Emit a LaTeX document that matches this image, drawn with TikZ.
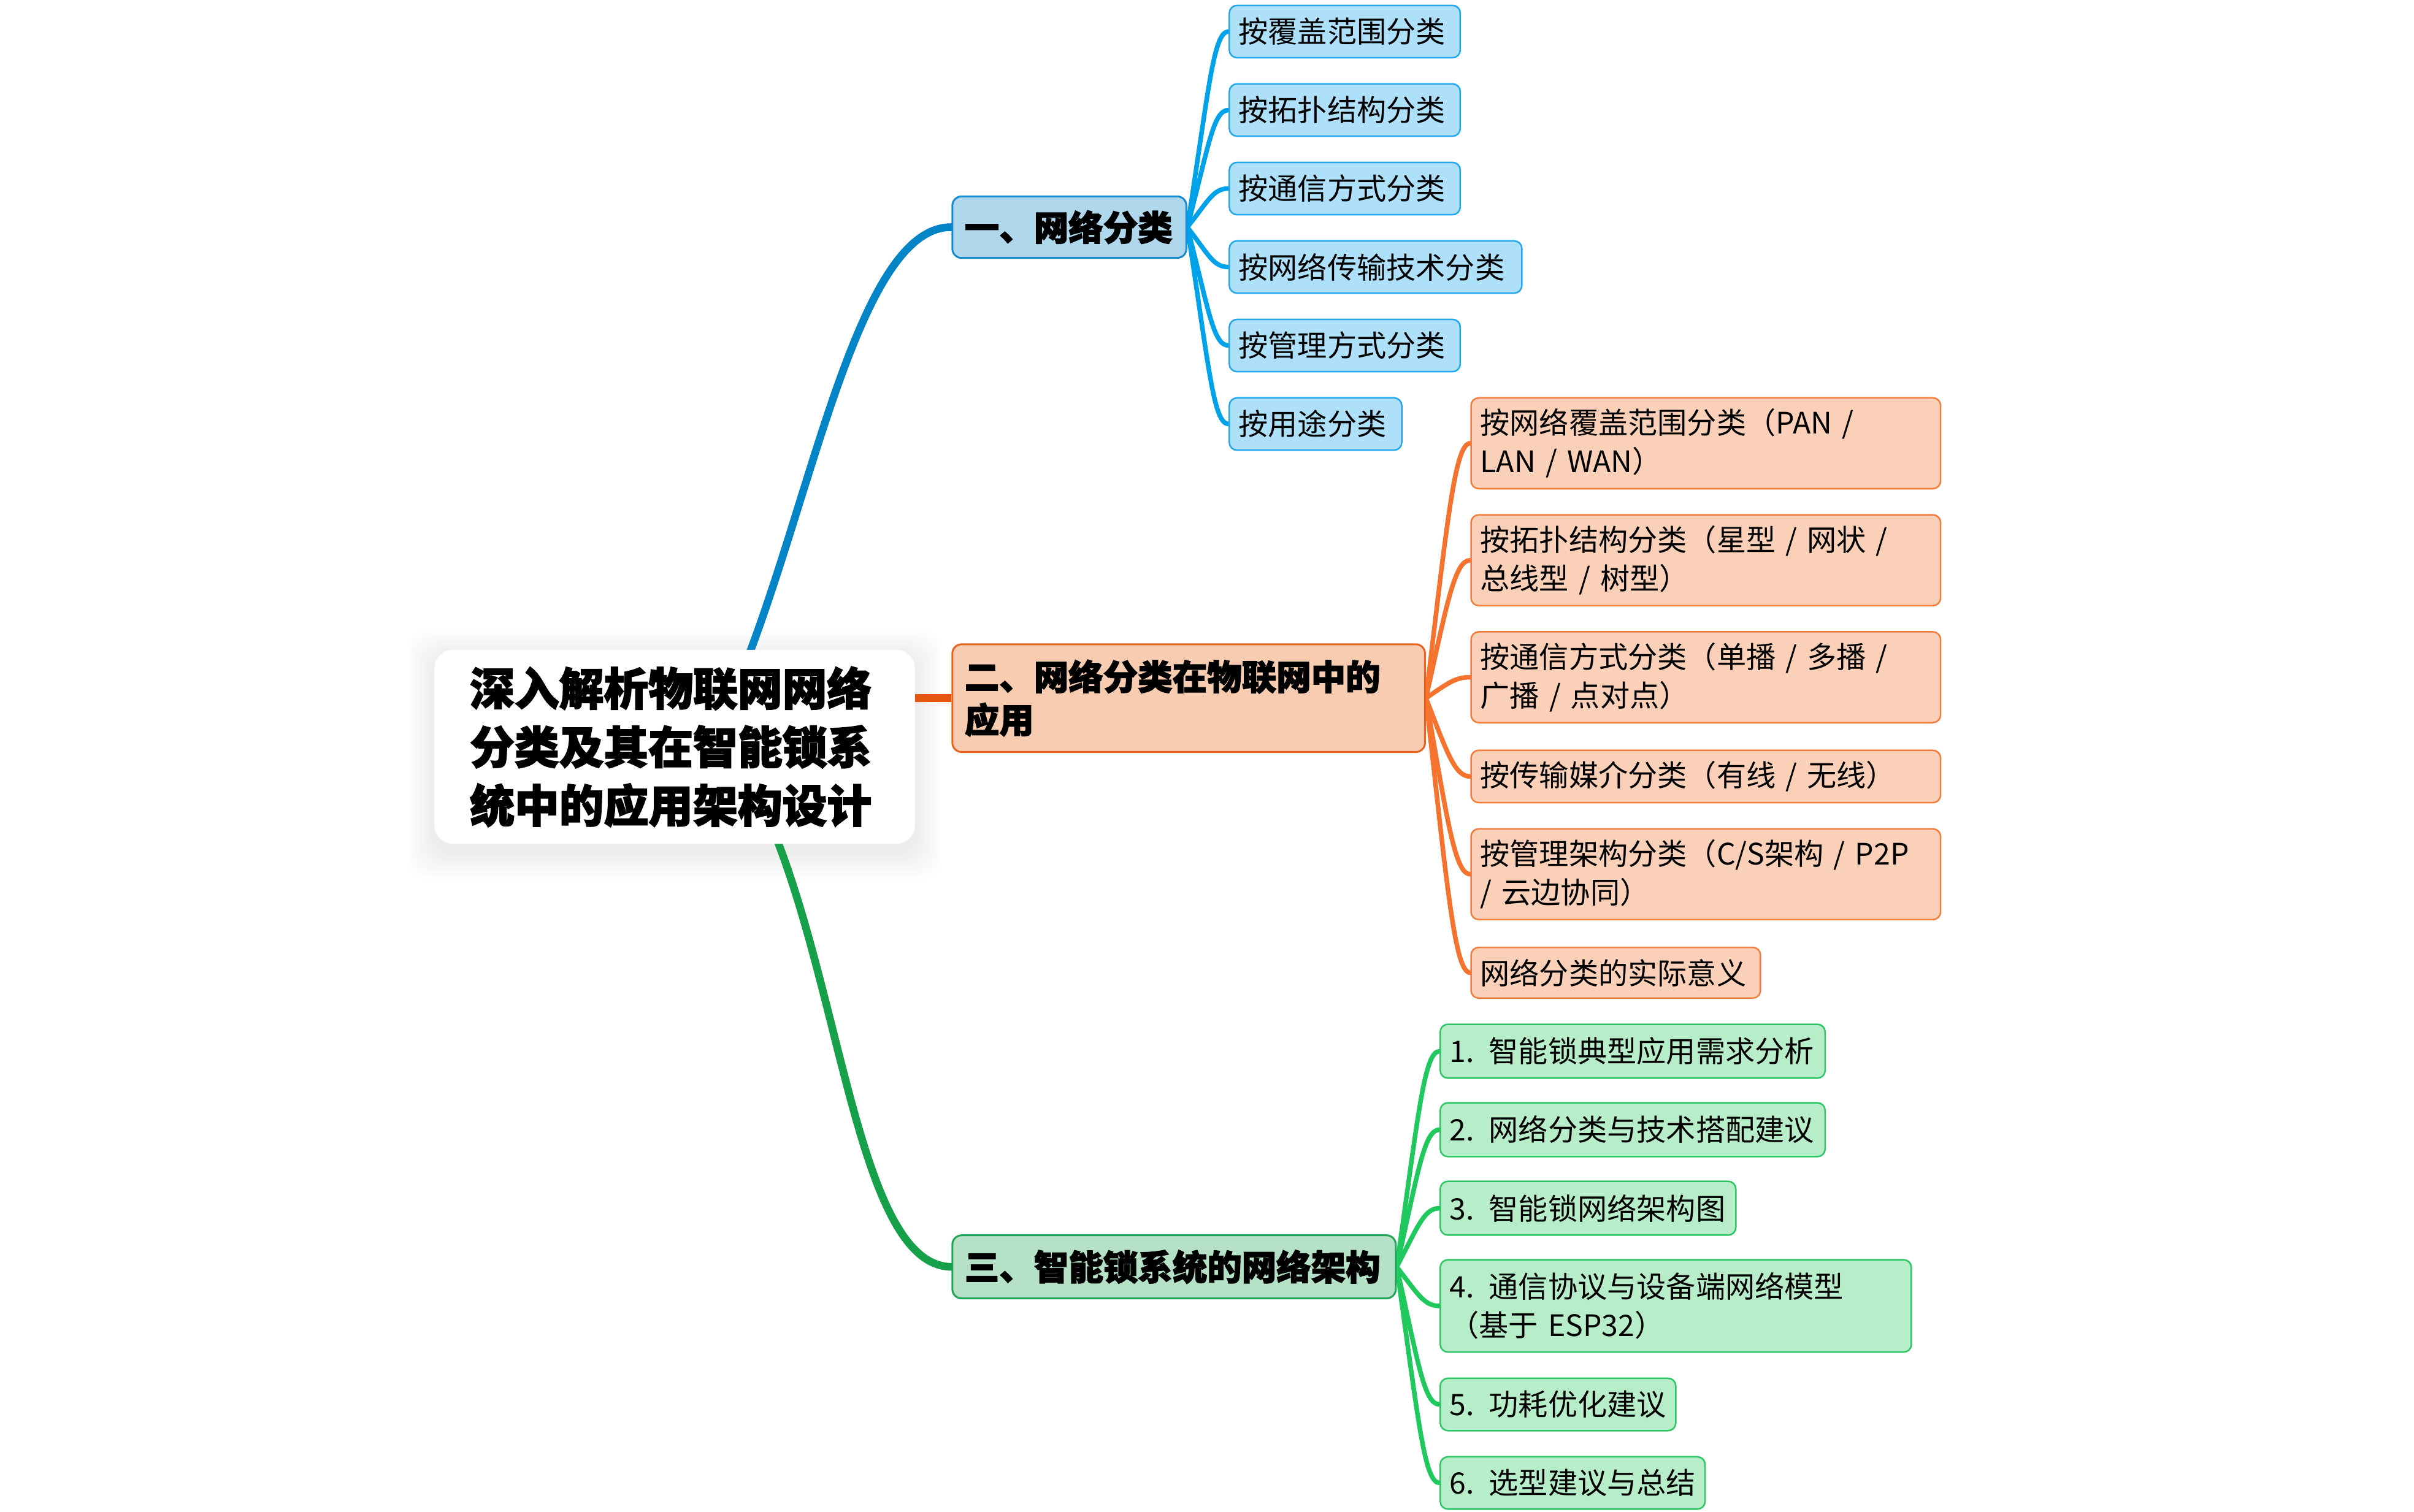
\documentclass[tikz,border=0pt]{standalone}
\usepackage{fontspec}
\setmainfont{Noto Sans CJK SC}[WordSpace=0.75]
\newfontfamily\heavyfont{Noto Sans CJK SC}[BoldFeatures={FakeBold=2.5}]
\usetikzlibrary{calc}
\pgfdeclarelayer{shadow}
\pgfdeclarelayer{bg}
\pgfsetlayers{shadow,bg,main}

\definecolor{mblue}{RGB}{2,132,199}
\definecolor{cblue}{RGB}{0,163,234}
\definecolor{b1fill}{RGB}{176,216,236}
\definecolor{b1draw}{RGB}{26,138,206}
\definecolor{cbfill}{RGB}{174,225,249}
\definecolor{cbdraw}{RGB}{34,168,238}
\definecolor{morange}{RGB}{228,86,14}
\definecolor{corange}{RGB}{245,115,47}
\definecolor{b2fill}{RGB}{248,204,176}
\definecolor{b2draw}{RGB}{232,100,30}
\definecolor{cofill}{RGB}{250,208,184}
\definecolor{codraw}{RGB}{244,124,60}
\definecolor{mgreen}{RGB}{23,160,74}
\definecolor{cgreen}{RGB}{31,201,94}
\definecolor{b3fill}{RGB}{181,226,198}
\definecolor{b3draw}{RGB}{34,165,90}
\definecolor{cgfill}{RGB}{184,237,202}
\definecolor{cgdraw}{RGB}{44,199,100}

\begin{document}
\begin{tikzpicture}[x=1pt,y=-1pt,
  leafbox/.style={draw, rounded corners=5pt, line width=1pt, anchor=north west,
    inner xsep=6pt, inner ysep=0pt, align=left, text=black,
    font=\fontsize{19.2pt}{25pt}\selectfont},
  bbox/.style={leafbox, fill=cbfill, draw=cbdraw},
  obox/.style={leafbox, fill=cofill, draw=codraw},
  gbox/.style={leafbox, fill=cgfill, draw=cgdraw},
  branch/.style={draw, rounded corners=6pt, line width=1.2pt, anchor=north west,
    inner xsep=8pt, inner ysep=0pt, align=left, text=black,
    font=\heavyfont\fontsize{22.5pt}{28pt}\selectfont\bfseries},
  rootbox/.style={fill=white, rounded corners=12pt, anchor=north west,
    inner xsep=23pt, inner ysep=0pt, align=left, text=black,
    font=\heavyfont\fontsize{29pt}{38pt}\selectfont\bfseries},
  mainline/.style={line width=5pt, line cap=round},
  subline/.style={line width=3pt, line cap=round},
]
\useasboundingbox (0,0) rectangle (1568,982);

% root
\node[rootbox, text width=266pt, minimum height=126pt] (root) at (282,422)
  {深入解析物联网网络\\分类及其在智能锁系\\统中的应用架构设计};

% branches
\node[branch, fill=b1fill, draw=b1draw, text width=136pt, minimum height=40pt] (b1) at (618,127) {一、网络分类};
\node[branch, fill=b2fill, draw=b2draw, text width=291pt, minimum height=70pt] (b2) at (618,418) {二、网络分类在物联网中的\\应用};
\node[branch, fill=b3fill, draw=b3draw, text width=272pt, minimum height=41pt] (b3) at (618,802) {三、智能锁系统的网络架构};

% blue leaves
\node[bbox, text width=138pt, minimum height=34pt] (c11) at (798,3) {按覆盖范围分类};
\node[bbox, text width=138pt, minimum height=34pt] (c12) at (798,54) {按拓扑结构分类};
\node[bbox, text width=138pt, minimum height=34pt] (c13) at (798,105) {按通信方式分类};
\node[bbox, text width=178pt, minimum height=34pt] (c14) at (798,156) {按网络传输技术分类};
\node[bbox, text width=138pt, minimum height=34pt] (c15) at (798,207) {按管理方式分类};
\node[bbox, text width=100pt, minimum height=34pt] (c16) at (798,258) {按用途分类};

% orange leaves
\node[obox, text width=293pt, minimum height=59pt] (o1) at (955,258) {按网络覆盖范围分类（PAN /\\LAN / WAN）};
\node[obox, text width=293pt, minimum height=59pt] (o2) at (955,334) {按拓扑结构分类（星型 / 网状 /\\总线型 / 树型）};
\node[obox, text width=293pt, minimum height=59pt] (o3) at (955,410) {按通信方式分类（单播 / 多播 /\\广播 / 点对点）};
\node[obox, text width=293pt, minimum height=34pt] (o4) at (955,487) {按传输媒介分类（有线 / 无线）};
\node[obox, text width=293pt, minimum height=59pt] (o5) at (955,538) {按管理架构分类（C/S架构 / P2P\\/ 云边协同）};
\node[obox, text width=176pt, minimum height=33pt] (o6) at (955,615) {网络分类的实际意义};

% green leaves
\node[gbox, text width=238pt, minimum height=35pt] (g1) at (935,665) {1. 智能锁典型应用需求分析};
\node[gbox, text width=238pt, minimum height=35pt] (g2) at (935,716) {2. 网络分类与技术搭配建议};
\node[gbox, text width=180pt, minimum height=35pt] (g3) at (935,767) {3. 智能锁网络架构图};
\node[gbox, text width=294pt, minimum height=60pt] (g4) at (935,818) {4. 通信协议与设备端网络模型\\（基于 ESP32）};
\node[gbox, text width=141pt, minimum height=34pt] (g5) at (935,895) {5. 功耗优化建议};
\node[gbox, text width=160pt, minimum height=34pt] (g6) at (935,946) {6. 选型建议与总结};

% soft shadow of root
\begin{pgfonlayer}{shadow}
\foreach \i in {1,...,18} {
  \fill[black, opacity=0.0045, rounded corners=14pt]
    ($(root.north west)+(-\i,-\i+5)$) rectangle ($(root.south east)+(\i,\i+5)$);
}
\end{pgfonlayer}

% connectors
\begin{pgfonlayer}{bg}
\draw[mainline, mblue] ($(root.north west)+(205,2)$) .. controls (530,310) and (560,147) .. (b1.west);
\draw[mainline, morange, line cap=butt] (root.east |- b2.west) -- (b2.west);
\draw[mainline, mgreen] ($(root.south west)+(223,-2)$) .. controls (548,658) and (560,822.5) .. (b3.west);

\draw[subline, cblue] (b1.east) .. controls +(14,-89) and +(-10,0) .. (c11.west);
\draw[subline, cblue] (b1.east) .. controls +(14,-53) and +(-10,0) .. (c12.west);
\draw[subline, cblue] (b1.east) .. controls +(14,-17.5) and +(-10,0) .. (c13.west);
\draw[subline, cblue] (b1.east) .. controls +(14,18) and +(-10,0) .. (c14.west);
\draw[subline, cblue] (b1.east) .. controls +(14,54) and +(-10,0) .. (c15.west);
\draw[subline, cblue] (b1.east) .. controls +(14,90) and +(-10,0) .. (c16.west);

\draw[subline, corange] (b2.east) .. controls +(14,-116) and +(-10,0) .. (o1.west);
\draw[subline, corange] (b2.east) .. controls +(14,-63) and +(-10,0) .. (o2.west);
\draw[subline, corange] (b2.east) .. controls +(14,-9.5) and +(-10,0) .. (o3.west);
\draw[subline, corange] (b2.east) .. controls +(14,36) and +(-10,0) .. (o4.west);
\draw[subline, corange] (b2.east) .. controls +(14,80) and +(-10,0) .. (o5.west);
\draw[subline, corange] (b2.east) .. controls +(14,125) and +(-10,0) .. (o6.west);

\draw[subline, cgreen] (b3.east) .. controls +(14,-98) and +(-10,0) .. (g1.west);
\draw[subline, cgreen] (b3.east) .. controls +(14,-62) and +(-10,0) .. (g2.west);
\draw[subline, cgreen] (b3.east) .. controls +(14,-26.5) and +(-10,0) .. (g3.west);
\draw[subline, cgreen] (b3.east) .. controls +(14,18) and +(-10,0) .. (g4.west);
\draw[subline, cgreen] (b3.east) .. controls +(14,62.5) and +(-10,0) .. (g5.west);
\draw[subline, cgreen] (b3.east) .. controls +(14,98.5) and +(-10,0) .. (g6.west);
\end{pgfonlayer}
\end{tikzpicture}
\end{document}
